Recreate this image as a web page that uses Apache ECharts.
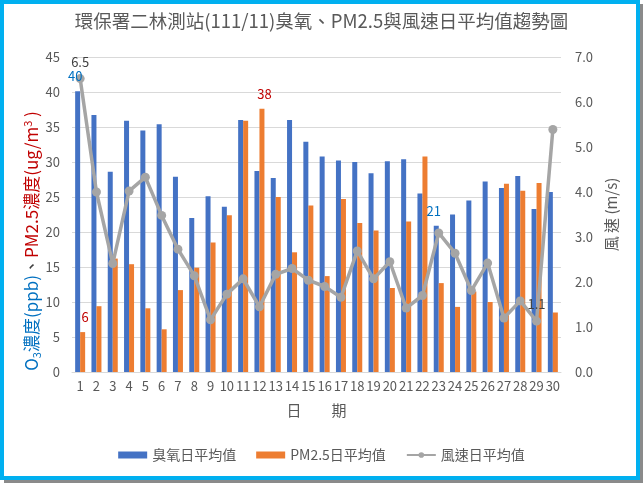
<!DOCTYPE html>
<html>
<head>
<meta charset="utf-8">
<script src="https://cdn.jsdelivr.net/npm/echarts@6/dist/echarts.min.js"></script>
<style>
html,body{margin:0;padding:0;background:#fff;}
#main{width:643px;height:484px;}
</style>
</head>
<body>
<div id="main"></div>
<script>
var days = ['1','2','3','4','5','6','7','8','9','10','11','12','13','14','15','16','17','18','19','20','21','22','23','24','25','26','27','28','29','30'];
var o3 = [40.1,36.7,28.6,35.9,34.5,35.4,27.9,22.0,25.1,23.6,36.0,28.7,27.7,36.0,32.9,30.8,30.2,30.0,28.4,30.1,30.4,25.5,20.9,22.5,24.5,27.2,26.3,28.0,23.3,25.7];
var pm25 = [5.7,9.4,16.2,15.4,9.1,6.1,11.7,14.9,18.5,22.4,35.9,37.6,25.0,17.1,23.8,13.7,24.7,21.3,20.2,12.0,21.5,30.8,12.7,9.3,11.5,10.0,26.9,25.9,27.0,8.5];
var wind = [6.52,4.0,2.41,4.02,4.33,3.48,2.73,2.14,1.16,1.73,2.07,1.45,2.17,2.30,2.04,1.90,1.66,2.69,2.07,2.45,1.42,1.70,3.09,2.64,1.81,2.42,1.20,1.58,1.13,5.39];
var leftTicks = [0,5,10,15,20,25,30,35,40,45];
var rightTicks = [0,1,2,3,4,5,6,7];
var o3LabelDays = ['1','23'];
var pmLabelDays = ['1','12'];
var windLabelDays = ['1','29'];

var FONT = "'Noto Sans CJK TC','Noto Sans',sans-serif";
var GRAY = '#595959';

function withLabels(values, labelDays, labelOpt) {
  return values.map(function (v, i) {
    if (labelDays.indexOf(days[i]) >= 0) {
      return { value: v, label: Object.assign({ show: true }, labelOpt) };
    }
    return v;
  });
}

// value labels for bars, drawn as mark points so they sit above the wind line
function barLabelMarks(values, labelDays, color, dx) {
  return {
    symbol: 'circle', symbolSize: 1,
    itemStyle: { color: 'rgba(0,0,0,0)' },
    label: { show: true, position: 'top', distance: 8, offset: [dx, 0], color: color, fontSize: 13, fontFamily: FONT,
      formatter: function (p) { return Math.round(p.value); } },
    data: labelDays.map(function (d) {
      var i = days.indexOf(d);
      return { coord: [d, values[i]], value: values[i] };
    })
  };
}

var chart = echarts.init(document.getElementById('main'), null, {renderer: 'canvas'});
chart.setOption({
  animation: false,
  textStyle: { fontFamily: FONT },
  title: {
    text: '環保署二林測站(111/11)臭氧、PM2.5與風速日平均值趨勢圖',
    left: 'center', top: 7,
    textStyle: { fontFamily: FONT, fontSize: 18.5, fontWeight: 'normal', color: GRAY }
  },
  legend: {
    left: 'center', top: 443,
    itemWidth: 29, itemHeight: 7, itemGap: 20,
    textStyle: { fontFamily: FONT, fontSize: 14, color: GRAY },
    data: [
      { name: '臭氧日平均值', icon: 'rect' },
      { name: 'PM2.5日平均值', icon: 'rect' },
      { name: '風速日平均值' }
    ]
  },
  grid: { left: 72, right: 82, top: 57, bottom: 112, containLabel: false },
  xAxis: {
    type: 'category', data: days,
    name: '日\u3000\u3000期', nameLocation: 'middle', nameGap: 31,
    nameTextStyle: { fontFamily: FONT, fontSize: 15, color: GRAY },
    axisLine: { lineStyle: { color: '#D9D9D9' } },
    axisTick: { show: false },
    axisLabel: { interval: 0, margin: 8, fontSize: 13, color: GRAY, fontFamily: FONT }
  },
  yAxis: [
    {
      type: 'value', min: leftTicks[0], max: leftTicks[leftTicks.length - 1], interval: 5,
      axisLine: { show: false }, axisTick: { show: false },
      axisLabel: { margin: 12, fontSize: 13, color: GRAY, fontFamily: FONT },
      splitLine: { lineStyle: { color: '#D9D9D9' } }
    },
    {
      type: 'value', min: rightTicks[0], max: rightTicks[rightTicks.length - 1], interval: 1,
      position: 'right',
      name: '風 速 (m/s)', nameLocation: 'middle', nameGap: 31, nameRotate: 90,
      nameTextStyle: { fontFamily: FONT, fontSize: 15, color: GRAY },
      axisLine: { show: false }, axisTick: { show: false },
      axisLabel: { margin: 14, fontSize: 13, color: GRAY, fontFamily: FONT,
        formatter: function (v) { return v.toFixed(1); } },
      splitLine: { show: false }
    }
  ],
  series: [
    {
      name: '臭氧日平均值', type: 'bar', yAxisIndex: 0, z: 2,
      barWidth: 5, barGap: '0%',
      itemStyle: { color: '#4472C4' },
      data: o3,
      markPoint: barLabelMarks(o3, o3LabelDays, '#0070C0', -2.5)
    },
    {
      name: 'PM2.5日平均值', type: 'bar', yAxisIndex: 0, z: 2,
      barWidth: 5, barGap: '0%',
      itemStyle: { color: '#ED7D31' },
      data: pm25,
      markPoint: barLabelMarks(pm25, pmLabelDays, '#C00000', 2.5)
    },
    {
      name: '風速日平均值', type: 'line', yAxisIndex: 1, z: 2,
      symbol: 'circle', symbolSize: 9,
      itemStyle: { color: '#A5A5A5' },
      lineStyle: { color: '#A5A5A5', width: 3.5 },
      data: withLabels(wind, windLabelDays, { position: 'top', distance: 6, color: '#404040', fontSize: 13,
        formatter: function (p) { return p.value.toFixed(1); } })
    }
  ],
  graphic: [
    { type: 'rect', z: -100, shape: { x: 4, y: 4, width: 639, height: 479 }, style: { fill: '#8a8a8a' } },
    { type: 'rect', z: -99, shape: { x: 0, y: 0, width: 640, height: 480 }, style: { fill: '#ffffff' } },
    { type: 'rect', z: 100, shape: { x: 2, y: 2, width: 636, height: 476 }, style: { fill: 'none', stroke: '#00B0F0', lineWidth: 4 } },
    {
      type: 'text', z: 50, x: 32, y: 241, rotation: Math.PI / 2,
      style: {
        text: '{b|O}{bs|3}{b|濃度(ppb)}{k|、}{r|PM2.5濃度(ug/m}{rs|3}{r| )}',
        align: 'center', verticalAlign: 'middle',
        font: '17px ' + FONT,
        fill: '#0070C0',
        rich: {
          b: { fontSize: 17, fill: '#0070C0', fontFamily: FONT, lineHeight: 20 },
          bs: { fontSize: 11, fill: '#0070C0', fontFamily: FONT, lineHeight: 20, verticalAlign: 'bottom' },
          k: { fontSize: 17, fill: '#404040', fontFamily: FONT, lineHeight: 20 },
          r: { fontSize: 17, fill: '#C00000', fontFamily: FONT, lineHeight: 20 },
          rs: { fontSize: 11, fill: '#C00000', fontFamily: FONT, lineHeight: 20, verticalAlign: 'top' }
        }
      }
    }
  ]
});
</script>
</body>
</html>
